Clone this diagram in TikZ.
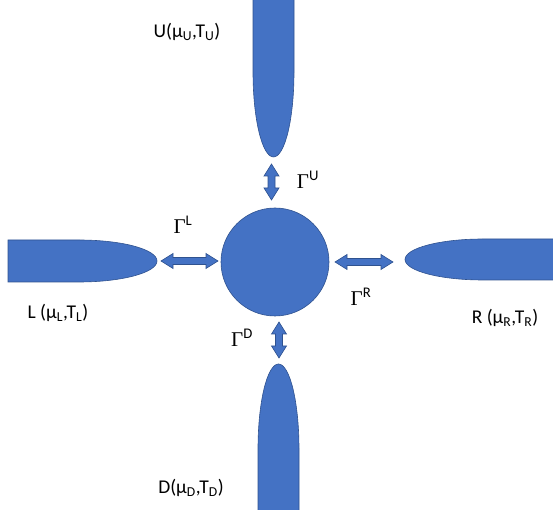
\documentclass[tikz,border=0pt]{standalone}
\usepackage{fontspec}
\setmainfont{Carlito}
\newfontfamily\gamfont{Liberation Serif}
\definecolor{leadfill}{HTML}{4472C4}
\definecolor{leaddraw}{HTML}{2F528F}
\tikzset{
  x=1pt,y=1pt,
  shapestyle/.style={fill=leadfill,draw=leaddraw,line width=0.6pt},
  lbl/.style={font=\fontsize{19.5}{23}\selectfont,inner sep=0pt},
  gam/.style={font=\fontsize{21}{24}\selectfont,inner sep=0pt},
  pics/dblarrow/.style={code={
    \path[shapestyle] (-#1/2,0) -- (-#1/2+12,7.5) -- (-#1/2+12,3.5) -- (#1/2-12,3.5)
      -- (#1/2-12,7.5) -- (#1/2,0) -- (#1/2-12,-7.5) -- (#1/2-12,-3.5)
      -- (-#1/2+12,-3.5) -- (-#1/2+12,-7.5) -- cycle;
  }}
}
\newcommand\Gam[1]{{\gamfont Γ}\textsuperscript{#1}}
\begin{document}
\begin{tikzpicture}
\useasboundingbox (0,0) rectangle (553,510);
% leads
\path[shapestyle] (253,513) -- (253,438) arc[start angle=180,end angle=360,x radius=20.5pt,y radius=85pt] -- (294,513) -- cycle;
\path[shapestyle] (258,-3) -- (258,61) arc[start angle=180,end angle=0,x radius=20.5pt,y radius=85pt] -- (299,-3) -- cycle;
\path[shapestyle] (8,270) -- (79,270) arc[start angle=90,end angle=-90,x radius=78pt,y radius=21pt] -- (8,228) -- cycle;
\path[shapestyle] (556,271) -- (483,271) arc[start angle=90,end angle=270,x radius=78pt,y radius=20.5pt] -- (556,230) -- cycle;
% dot
\node[shapestyle,circle,minimum size=108pt,inner sep=0pt] (dot) at (275,248) {};
% arrows
\pic at (189.5,249) {dblarrow=57};
\pic at (364,248) {dblarrow=58};
\pic[rotate=90] at (271.5,328) {dblarrow=36};
\pic[rotate=90] at (279,170) {dblarrow=36};
% labels
\node[lbl] (lu) at (187,478) {U(μ\textsubscript{U},T\textsubscript{U})};
\node[lbl] (ll) at (58,197) {L (μ\textsubscript{L},T\textsubscript{L})};
\node[lbl] (lr) at (505,192) {R (μ\textsubscript{R},T\textsubscript{R})};
\node[lbl] (ld) at (191,22) {D(μ\textsubscript{D},T\textsubscript{D})};
\node[gam] (gu) at (308,330) {\Gam{U}};
\node[gam] (gl) at (183,285) {\Gam{L}};
\node[gam] (gr) at (361,213) {\Gam{R}};
\node[gam] (gd) at (242,172) {\Gam{D}};
\end{tikzpicture}
\end{document}
